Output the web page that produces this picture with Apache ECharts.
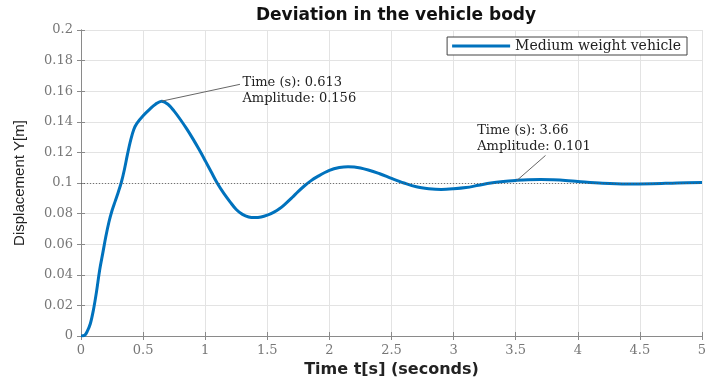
<!DOCTYPE html>
<html>
<head>
<meta charset="utf-8">
<script src="https://cdn.jsdelivr.net/npm/echarts@6/dist/echarts.min.js"></script>
<style>
  html, body { margin: 0; padding: 0; background: #fff; }
  #chart { width: 712px; height: 383px; }
</style>
</head>
<body>
<div id="chart"></div>
<script>
// step response of the vehicle body
const timeS = [0, 0.03, 0.05, 0.075, 0.1, 0.125, 0.15, 0.175, 0.2, 0.225, 0.25, 0.275, 0.3, 0.325, 0.35,
  0.375, 0.4, 0.425, 0.45, 0.5, 0.55, 0.6, 0.65, 0.7, 0.75, 0.8, 0.85, 0.9, 0.95, 1.0, 1.05, 1.1,
  1.15, 1.2, 1.25, 1.3, 1.35, 1.4, 1.45, 1.5, 1.55, 1.6, 1.65, 1.7, 1.75, 1.8, 1.85, 1.9, 2.0, 2.08, 2.15, 2.25,
  2.4, 2.5, 2.6, 2.7, 2.8, 2.9, 3.0, 3.1, 3.2, 3.3, 3.4, 3.5, 3.6, 3.7, 3.8, 3.9, 4.0, 4.2, 4.4,
  4.6, 4.8, 5.0]
const displacement = [0, 0.0005, 0.003, 0.008, 0.017, 0.029, 0.043, 0.054, 0.065, 0.0745, 0.082, 0.088, 0.094, 0.1005, 0.109,
  0.119, 0.128, 0.135, 0.139, 0.144, 0.148, 0.1515, 0.1535, 0.1515, 0.147, 0.1415, 0.1355, 0.129, 0.122, 0.1146, 0.107, 0.0995,
  0.0932, 0.0877, 0.0827, 0.0795, 0.0778, 0.0774, 0.0778, 0.079, 0.0808, 0.0833, 0.0867, 0.0905, 0.0945, 0.0982, 0.1014, 0.104, 0.1082, 0.1101, 0.1107, 0.1098,
  0.1062, 0.103, 0.1, 0.0975, 0.0963, 0.0958, 0.0962, 0.097, 0.0985, 0.1, 0.101, 0.1017, 0.1022, 0.1023, 0.1021, 0.1017, 0.101, 0.0998, 0.0993,
  0.0995, 0.1, 0.1003]
const xTicks = { min: 0, max: 5, step: 0.5 }
const yTicks = { min: 0, max: 0.2, step: 0.02 }
const steadyValue = 0.1
const tips = [
  { text: 'Time (s): 0.613\nAmplitude: 0.156', point: [0.65, 0.1535], textAt: [1.30, 0.1605], lineEnd: [1.28, 0.1645] },
  { text: 'Time (s): 3.66\nAmplitude: 0.101', point: [3.51, 0.1017], textAt: [3.19, 0.129], lineEnd: [3.74, 0.118] },
]

const serif = 'DejaVu Serif'
const chart = echarts.init(document.getElementById('chart'))

// top and right edges of the box, ticks only
const frameAxis = (pos, ticks) => ({
  type: 'value',
  position: pos,
  min: ticks.min,
  max: ticks.max,
  interval: ticks.step,
  axisLine: { show: true, lineStyle: { color: '#8a8a8a', width: 1 } },
  axisTick: { show: true, inside: true, length: 4, lineStyle: { color: '#8a8a8a' } },
  axisLabel: { show: false },
  splitLine: { show: false },
})

const option = {
  animation: false,
  backgroundColor: '#fff',
  title: {
    text: 'Deviation in the vehicle body',
    left: 391,
    textAlign: 'center',
    top: 2,
    textStyle: { fontFamily: 'DejaVu Sans', fontWeight: 'bold', fontSize: 17, color: '#111' },
  },
  grid: { left: 81, right: 10, top: 30, bottom: 47, containLabel: false },
  legend: {
    right: 25,
    top: 37,
    data: [{ name: 'Medium weight vehicle', icon: 'rect' }],
    itemWidth: 58,
    itemHeight: 3,
    itemGap: 4,
    padding: [2, 6, 2, 5],
    backgroundColor: '#fff',
    borderColor: '#444',
    borderWidth: 1,
    borderRadius: 0,
    textStyle: { fontFamily: serif, fontSize: 14, color: '#222' },
  },
  xAxis: [
    {
      type: 'value',
      min: xTicks.min,
      max: xTicks.max,
      interval: xTicks.step,
      name: 'Time t[s] (seconds)',
      nameLocation: 'middle',
      nameGap: 22,
      nameTextStyle: { fontFamily: 'DejaVu Sans', fontWeight: 'bold', fontSize: 16, color: '#222' },
      axisLine: { show: true, lineStyle: { color: '#8a8a8a', width: 1 } },
      axisTick: { show: true, inside: true, length: 4, lineStyle: { color: '#8a8a8a' } },
      axisLabel: { fontFamily: serif, fontSize: 13, color: '#777', margin: 8 },
      splitLine: { show: true, lineStyle: { color: '#e3e3e3', width: 1 } },
    },
    frameAxis('top', xTicks),
  ],
  yAxis: [
    {
      type: 'value',
      min: yTicks.min,
      max: yTicks.max,
      interval: yTicks.step,
      name: 'Displacement Y[m]',
      nameLocation: 'middle',
      nameGap: 54,
      nameTextStyle: { fontFamily: 'Liberation Sans', fontSize: 15, color: '#222' },
      axisLine: { show: true, lineStyle: { color: '#8a8a8a', width: 1 } },
      axisTick: { show: true, inside: true, length: 4, lineStyle: { color: '#8a8a8a' } },
      axisLabel: { fontFamily: serif, fontSize: 13, color: '#777', margin: 8 },
      splitLine: { show: true, lineStyle: { color: '#e3e3e3', width: 1 } },
    },
    frameAxis('right', yTicks),
  ],
  series: [
    {
      name: 'Medium weight vehicle',
      type: 'line',
      xAxisIndex: 0,
      yAxisIndex: 0,
      data: timeS.map((t, i) => [t, displacement[i]]),
      smooth: 0.35,
      symbol: 'none',
      lineStyle: { color: '#0072BD', width: 3 },
      itemStyle: { color: '#0072BD' },
      z: 3,
      markLine: {
        silent: true,
        symbol: 'none',
        label: { show: false },
        data: [
          { yAxis: steadyValue, lineStyle: { color: '#555', width: 0.8, type: [1, 2] } },
          ...tips.map((tp) => [
            { coord: tp.point, lineStyle: { color: '#666', width: 1, type: 'solid' } },
            { coord: tp.lineEnd },
          ]),
        ],
      },
      markPoint: {
        silent: true,
        symbol: 'circle',
        symbolSize: 0,
        data: tips.map((tp) => ({
          coord: tp.textAt,
          label: {
            show: true,
            position: 'right',
            distance: 0,
            formatter: tp.text,
            fontFamily: serif,
            fontSize: 13,
            lineHeight: 16,
            color: '#222',
          },
        })),
      },
    },
  ],
}

chart.setOption(option)
</script>
</body>
</html>
